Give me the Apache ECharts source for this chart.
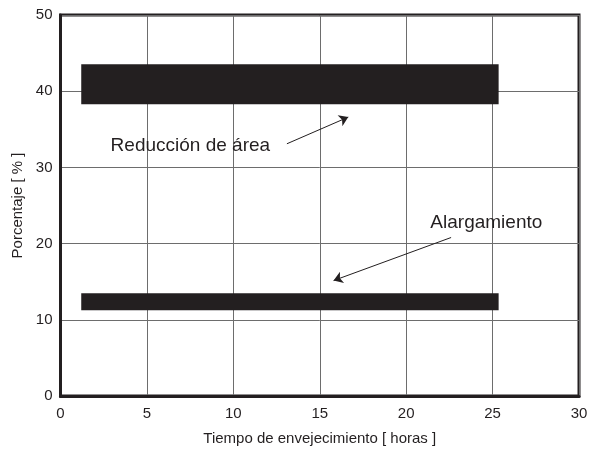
<!DOCTYPE html>
<html>
<head>
<meta charset="utf-8">
<script src="https://cdn.jsdelivr.net/npm/echarts@6/dist/echarts.min.js"></script>
<style>html,body{margin:0;padding:0;background:#fff;}#c{width:590px;height:450px;}</style>
</head>
<body>
<div id="c"></div>
<script>
// Bands: [xStart, xEnd, yLow, yHigh]
var bandNames = ['Reducción de área', 'Alargamiento'];
var bandXStart = [1.2, 1.2];
var bandXEnd = [25.35, 25.35];
var bandYLow = [38.3, 11.25];
var bandYHigh = [43.55, 13.5];

// Annotation texts and arrows
var noteTexts = ['Reducción de área', 'Alargamiento'];
var noteX = [2.9, 21.4];
var noteY = [32.9, 22.7];
var arrowFrom = [[13.1, 33.1], [22.6, 20.8]];
var arrowTo = [[16.65, 36.6], [15.8, 15.15]];

var xTicks = [0, 5, 10, 15, 20, 25, 30];
var yTicks = [0, 10, 20, 30, 40, 50];

var ink = '#231f20';
var font = 'Liberation Sans, Arial, sans-serif';

var bandData = bandNames.map(function (n, i) {
  return [bandXStart[i], bandXEnd[i], bandYLow[i], bandYHigh[i]];
});

var chart = echarts.init(document.getElementById('c'), null, {renderer: 'canvas'});
chart.setOption({
  animation: false,
  backgroundColor: '#fff',
  grid: {left: 60.5, right: 11, top: 15, bottom: 54, containLabel: false, outerBoundsMode: 'none',
         show: true, borderColor: ink, borderWidth: 3, backgroundColor: 'transparent'},
  xAxis: {
    type: 'value', min: xTicks[0], max: xTicks[xTicks.length - 1], interval: 5,
    name: 'Tiempo de envejecimiento [ horas ]', nameLocation: 'middle', nameGap: 35,
    nameTextStyle: {fontFamily: font, fontSize: 15, color: ink},
    axisLine: {show: true, lineStyle: {color: ink, width: 3}},
    axisTick: {show: false},
    axisLabel: {fontFamily: font, fontSize: 15, color: ink, margin: 10},
    splitLine: {show: true, lineStyle: {color: '#6d6d6d', width: 1}}
  },
  yAxis: {
    type: 'value', min: yTicks[0], max: yTicks[yTicks.length - 1], interval: 10,
    name: 'Porcentaje [ % ]', nameLocation: 'middle', nameGap: 35,
    nameTextStyle: {fontFamily: font, fontSize: 15, color: ink},
    axisLine: {show: true, lineStyle: {color: ink, width: 3}},
    axisTick: {show: false},
    axisLabel: {fontFamily: font, fontSize: 15, color: ink, margin: 8},
    splitLine: {show: true, lineStyle: {color: '#6d6d6d', width: 1}}
  },
  series: [
    {
      type: 'custom',
      data: bandData,
      renderItem: function (params, api) {
        var p1 = api.coord([api.value(0), api.value(3)]);
        var p2 = api.coord([api.value(1), api.value(2)]);
        return {
          type: 'rect',
          shape: {x: p1[0], y: p1[1], width: p2[0] - p1[0], height: p2[1] - p1[1]},
          style: {fill: ink}
        };
      },
      encode: {x: [0, 1], y: [2, 3]},
      z: 3
    },
    {
      type: 'lines',
      coordinateSystem: 'cartesian2d',
      symbol: ['none', 'arrow'],
      symbolSize: [0, 9],
      lineStyle: {color: ink, width: 1, opacity: 1},
      data: arrowFrom.map(function (f, i) { return {coords: [f, arrowTo[i]]}; }),
      z: 4
    },
    {
      type: 'scatter',
      symbolSize: 0,
      itemStyle: {color: ink},
      data: noteTexts.map(function (t, i) { return {value: [noteX[i], noteY[i]], name: t}; }),
      label: {
        show: true, position: 'inside', align: 'left', verticalAlign: 'middle',
        formatter: function (p) { return p.name; },
        fontFamily: font, fontSize: 19, color: ink, textBorderWidth: 0, opacity: 1
      },
      z: 5
    }
  ]
});
</script>
</body>
</html>
